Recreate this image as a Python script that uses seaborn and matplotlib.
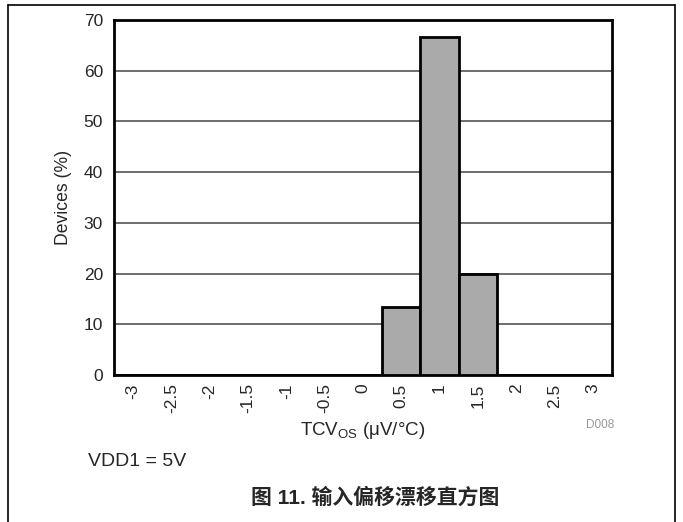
import matplotlib
matplotlib.use("Agg")
import matplotlib.pyplot as plt
import seaborn as sns
import pandas as pd
from matplotlib.lines import Line2D

categories = ["-3", "-2.5", "-2", "-1.5", "-1", "-0.5", "0", "0.5", "1", "1.5", "2", "2.5", "3"]
devices_pct = [0, 0, 0, 0, 0, 0, 0, 13.33, 66.67, 20.0, 0, 0, 0]
y_ticks = [0, 10, 20, 30, 40, 50, 60, 70]

sns.set_style("white")
plt.rcParams['font.family'] = ['Liberation Sans', 'Noto Sans CJK SC', 'DejaVu Sans']
plt.rcParams['mathtext.fontset'] = 'custom'
plt.rcParams['mathtext.rm'] = 'Liberation Sans'
plt.rcParams['mathtext.it'] = 'Liberation Sans:italic'

df = pd.DataFrame({"bin": categories, "pct": devices_pct})

fig = plt.figure(figsize=(6.83, 5.22), dpi=100)
ax = fig.add_axes([114/683, 1-375/522, (612-114)/683, (375-20)/522])

sns.barplot(data=df, x="bin", y="pct", order=categories, color="#AAAAAA",
            saturation=1, width=1.0, edgecolor="black", linewidth=2, ax=ax, zorder=3)

ax.set_ylim(0, 70)
ax.set_xlim(-0.5, len(categories) - 0.5)
ax.set_yticks(y_ticks)
ax.set_yticklabels([str(v) for v in y_ticks], fontsize=12.5)
ax.tick_params(axis='y', length=0, pad=8)
ax.tick_params(axis='x', length=0, pad=6)
ax.set_xticks(range(len(categories)))
ax.set_xticklabels(categories, rotation=90, fontsize=12.5)
ax.set_xticks([-0.5, len(categories) - 0.5], minor=True)
ax.tick_params(axis='x', which='minor', length=6, width=0.8, color='black')

for v in y_ticks[1:-1]:
    ax.axhline(v, color="#555555", linewidth=1.2, zorder=1)

for s in ax.spines.values():
    s.set_visible(True)
    s.set_color("black")
    s.set_linewidth(2)

ax.set_ylabel("Devices (%)", fontsize=12.7, labelpad=8)
ax.set_xlabel(r"TCV$_{\mathrm{OS}}$ ($\mathrm{\mu}$V/°C)", fontsize=13.5, labelpad=5)

fig.text(600/683, 1-425/522, "D008", fontsize=8.5, color="#999999", ha="center", va="center")
fig.text(88/683, 1-462/522, "VDD1 = 5V", fontsize=14, ha="left", va="center")
fig.text(375/683, 1-497/522, "图 11. 输入偏移漂移直方图", fontsize=15, fontweight="bold",
         ha="center", va="center")

# outer frame
fig.add_artist(Line2D([8/683, 8/683], [0, 1-5/522], color="black", linewidth=1.2, transform=fig.transFigure))
fig.add_artist(Line2D([675/683, 675/683], [0, 1-5/522], color="black", linewidth=1.2, transform=fig.transFigure))
fig.add_artist(Line2D([8/683, 675/683], [1-5/522, 1-5/522], color="black", linewidth=1.2, transform=fig.transFigure))

fig.savefig("out.png", dpi=100)
